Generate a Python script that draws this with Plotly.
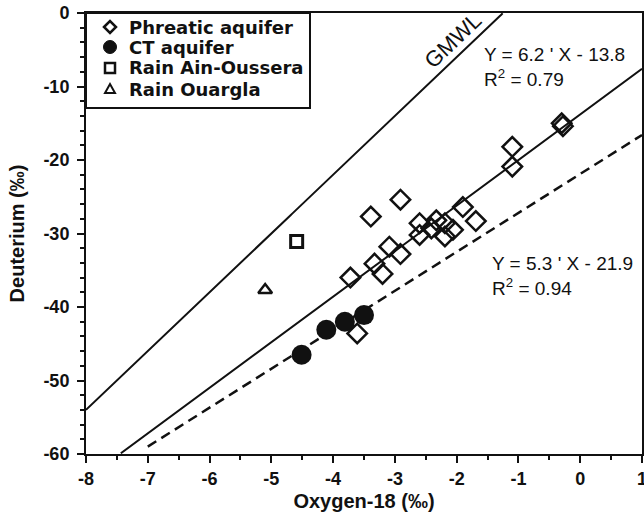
import numpy as np
import plotly.graph_objects as go

# ---- data ----
phreatic_o18 = [-0.30, -0.28, -1.10, -1.10, -2.91, -3.39, -1.90, -1.69, -2.60, -2.60,
                -2.33, -2.19, -2.19, -2.06, -2.41, -3.09, -2.91, -3.33, -3.20, -3.72, -3.61]
phreatic_d = [-15.0, -15.4, -18.2, -20.9, -25.4, -27.7, -26.4, -28.3, -28.6, -30.2,
              -28.2, -28.6, -30.4, -29.5, -29.3, -31.8, -32.8, -34.1, -35.5, -36.0, -43.6]
ct_o18 = [-4.51, -4.11, -3.81, -3.50]
ct_d = [-46.5, -43.1, -42.0, -41.1]
ain_o18 = [-4.59]
ain_d = [-31.1]
ouargla_o18 = [-5.10]
ouargla_d = [-37.7]

series_names = ["Phreatic aquifer", "CT aquifer", "Rain Ain-Oussera", "Rain Ouargla"]

# line equations (slope, intercept)
gmwl = (8.0, 10.0)
fit_phreatic = (6.2, -13.8)
fit_ct = (5.3, -21.9)

x_tick_vals = list(range(-8, 2))
x_tick_text = ["-8", "-7", "-6", "-5", "-4", "-3", "-2", "-1", "0", "1"]
y_tick_vals = list(range(-60, 1, 10))
y_tick_text = ["-60", "-50", "-40", "-30", "-20", "-10", "0"]

def line_xy(slope, icpt, x0, x1, ymin=-60, ymax=0):
    xs = np.linspace(x0, x1, 400)
    ys = slope * xs + icpt
    m = (ys >= ymin) & (ys <= ymax)
    return xs[m], ys[m]

BLK = "#111111"
ARIAL = "Arial, Liberation Sans, sans-serif"
fig = go.Figure()

gx, gy = line_xy(*gmwl, -8, 1)
fig.add_trace(go.Scatter(x=gx, y=gy, mode="lines", line=dict(color=BLK, width=2),
                         showlegend=False, hoverinfo="skip"))
px_, py_ = line_xy(*fit_phreatic, -8, 1)
fig.add_trace(go.Scatter(x=px_, y=py_, mode="lines", line=dict(color=BLK, width=2),
                         showlegend=False, hoverinfo="skip"))
cx, cy = line_xy(*fit_ct, -7, 1)
fig.add_trace(go.Scatter(x=cx, y=cy, mode="lines", line=dict(color=BLK, width=2.5, dash="10px,6px"),
                         showlegend=False, hoverinfo="skip"))

fig.add_trace(go.Scatter(x=phreatic_o18, y=phreatic_d, mode="markers", name=series_names[0],
                         showlegend=False,
                         marker=dict(symbol="diamond-open", size=15, color=BLK, line=dict(width=2.5, color=BLK))))
fig.add_trace(go.Scatter(x=ct_o18, y=ct_d, mode="markers", name=series_names[1], showlegend=False,
                         marker=dict(symbol="circle", size=20, color=BLK)))
fig.add_trace(go.Scatter(x=ain_o18, y=ain_d, mode="markers", name=series_names[2], showlegend=False,
                         marker=dict(symbol="square-open", size=12, color=BLK, line=dict(width=3, color=BLK))))
fig.add_trace(go.Scatter(x=ouargla_o18, y=ouargla_d, mode="markers", name=series_names[3], showlegend=False,
                         marker=dict(symbol="triangle-up-open", size=12, color=BLK, line=dict(width=2.5, color=BLK))))

# ---- annotations ----
ann_font = dict(family=ARIAL, size=19, color=BLK)
fig.add_annotation(x=-1.59, y=-7.4, xref="x", yref="y", xanchor="left", yanchor="middle",
                   text="Y = 6.2 ' X - 13.8<br>R<sup>2</sup> = 0.79", showarrow=False, align="left", font=ann_font)
fig.add_annotation(x=-1.46, y=-35.8, xref="x", yref="y", xanchor="left", yanchor="middle",
                   text="Y = 5.3 ' X - 21.9<br>R<sup>2</sup> = 0.94", showarrow=False, align="left", font=ann_font)
fig.add_annotation(x=-2.06, y=-3.8, xref="x", yref="y", text="GMWL", showarrow=False,
                   textangle=-43.6, font=dict(family=ARIAL, size=22, color=BLK))

# ---- manual legend (box + symbols in pixel offsets from the plot's top-left corner) ----
PLOT_W, PLOT_H = 556, 441
leg_rows = [-14, -34, -55, -76]
leg_sym_x = 24
leg_text_x = 41
common = dict(xref="paper", yref="paper", xsizemode="pixel", ysizemode="pixel", xanchor=0, yanchor=1)
fig.add_shape(type="rect", x0=0, x1=224, y0=0, y1=-95, line=dict(color=BLK, width=2),
              fillcolor="white", layer="above", **common)
r0, r1, r2, r3 = leg_rows
sx = leg_sym_x
fig.add_shape(type="path", path=f"M {sx-6},{r0} L {sx},{r0+6} L {sx+6},{r0} L {sx},{r0-6} Z",
              line=dict(color=BLK, width=2.5), layer="above", **common)
fig.add_shape(type="circle", x0=sx-6.5, x1=sx+6.5, y0=r1-6.5, y1=r1+6.5, fillcolor=BLK,
              line=dict(color=BLK, width=1), layer="above", **common)
fig.add_shape(type="rect", x0=sx-5, x1=sx+5, y0=r2-5, y1=r2+5,
              line=dict(color=BLK, width=2.5), layer="above", **common)
fig.add_shape(type="path", path=f"M {sx-5},{r3-4} L {sx+5},{r3-4} L {sx},{r3+5} Z",
              line=dict(color=BLK, width=2), layer="above", **common)
for name, ry in zip(series_names, leg_rows):
    fig.add_annotation(xref="paper", yref="paper", x=leg_text_x / PLOT_W, y=1 + ry / PLOT_H,
                       xanchor="left", yanchor="middle", text=f"<b>{name}</b>", showarrow=False,
                       font=dict(family="DejaVu Sans", size=18, color=BLK))

axis_common = dict(showline=True, linecolor=BLK, linewidth=2, mirror=True, ticks="outside",
                   tickcolor=BLK, tickwidth=2, ticklen=7, showgrid=False, zeroline=False,
                   automargin=False, ticklabeloverflow="allow",
                   tickfont=dict(family=ARIAL, size=18, color=BLK, weight="bold"))

fig.update_xaxes(range=[-8, 1], tickvals=x_tick_vals, ticktext=x_tick_text,
                 minor=dict(ticks="outside", dtick=0.5, ticklen=4, tickwidth=2, tickcolor=BLK),
                 title=dict(text="Oxygen-18 (‰)", font=dict(family=ARIAL, size=20,
                            color=BLK, weight="bold"), standoff=6), **axis_common)
fig.update_yaxes(range=[-60, 0], tickvals=y_tick_vals, ticktext=y_tick_text,
                 ticklabelstandoff=4,
                 minor=dict(ticks="outside", dtick=2, ticklen=4, tickwidth=2, tickcolor=BLK),
                 title=dict(text="Deuterium (‰)", font=dict(family=ARIAL, size=20,
                            color=BLK, weight="bold"), standoff=13), **axis_common)

fig.update_layout(width=644, height=519, margin=dict(l=86, r=2, t=13, b=65),
                  plot_bgcolor="white", paper_bgcolor="white", showlegend=False)

fig.write_html("out.html", config={"displayModeBar": False},
               post_script="document.body.style.margin='0';")
